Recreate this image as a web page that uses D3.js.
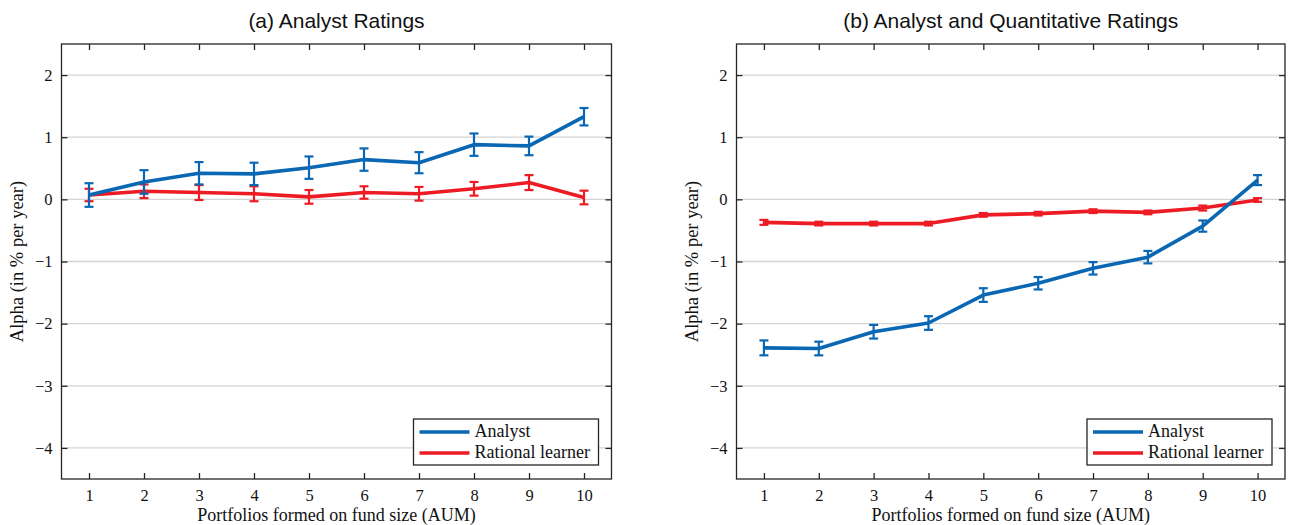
<!DOCTYPE html>
<html>
<head>
<meta charset="utf-8">
<script src="https://cdn.jsdelivr.net/npm/d3@7"></script>
<style>
  body { margin: 0; background: #fff; }
  .tick text, .lbl, .leg { font-family: "Liberation Serif", "DejaVu Serif", serif; }
  .ttl { font-family: "Liberation Sans", Arial, sans-serif; }
</style>
</head>
<body>
<div id="chart"></div>
<script>
// portfolios 1..10 (fund size deciles)
const portfolios = [1, 2, 3, 4, 5, 6, 7, 8, 9, 10];
const yTicks = [-4, -3, -2, -1, 0, 1, 2];

// panel (a) analyst ratings
const aAnalyst    = [0.07, 0.28, 0.42, 0.41, 0.51, 0.64, 0.59, 0.88, 0.86, 1.33];
const aAnalystSE  = [0.19, 0.19, 0.18, 0.18, 0.18, 0.18, 0.17, 0.18, 0.15, 0.14];
const aRational   = [0.07, 0.13, 0.11, 0.09, 0.04, 0.11, 0.09, 0.17, 0.27, 0.03];
const aRationalSE = [0.10, 0.11, 0.12, 0.12, 0.11, 0.10, 0.11, 0.11, 0.12, 0.11];

// panel (b) analyst and quantitative ratings
const bAnalyst    = [-2.39, -2.40, -2.13, -1.99, -1.54, -1.35, -1.11, -0.93, -0.43, 0.31];
const bAnalystSE  = [0.12, 0.11, 0.11, 0.11, 0.11, 0.10, 0.10, 0.10, 0.09, 0.08];
const bRational   = [-0.37, -0.39, -0.39, -0.39, -0.25, -0.23, -0.19, -0.21, -0.14, -0.01];
const bRationalSE = [0.04, 0.03, 0.03, 0.03, 0.03, 0.03, 0.03, 0.03, 0.04, 0.03];

const blue = "#0a67b3", red = "#ed1c24";

const svg = d3.select("#chart").append("svg")
    .attr("width", 1289)
    .attr("height", 525);

function drawPanel(left, right, title, analyst, analystSE, rational, rationalSE) {
    const top = 44, bottom = 479;
    const x = d3.scaleLinear().domain([0.5, 10.5]).range([left, right]);
    const y = d3.scaleLinear().domain([-4.5, 2.5]).range([bottom, top]);
    const g = svg.append("g");

    // grid
    g.selectAll(".grid").data(yTicks).enter().append("line")
        .attr("x1", left).attr("x2", right)
        .attr("y1", d => y(d)).attr("y2", d => y(d))
        .attr("stroke", "#d4d4d4").attr("stroke-width", 1.3);

    // axes with inward ticks on all four sides
    const axB = g.append("g").attr("transform", "translate(0," + bottom + ")")
        .call(d3.axisBottom(x).tickValues(portfolios).tickSizeInner(-6).tickSizeOuter(0).tickPadding(10));
    const axT = g.append("g").attr("transform", "translate(0," + top + ")")
        .call(d3.axisTop(x).tickValues(portfolios).tickSizeInner(-6).tickSizeOuter(0).tickFormat(""));
    const axL = g.append("g").attr("transform", "translate(" + left + ",0)")
        .call(d3.axisLeft(y).tickValues(yTicks).tickSizeInner(-6).tickSizeOuter(0).tickPadding(9)
            .tickFormat(d => d < 0 ? "\u2212" + Math.abs(d) : d));
    const axR = g.append("g").attr("transform", "translate(" + right + ",0)")
        .call(d3.axisRight(y).tickValues(yTicks).tickSizeInner(-6).tickSizeOuter(0).tickFormat(""));
    [axB, axT, axL, axR].forEach(a => {
        a.select(".domain").remove();
        a.selectAll("line").attr("stroke", "#262626").attr("stroke-width", 1.3);
        a.selectAll("text").attr("font-size", 16.5).attr("fill", "#111");
    });

    g.append("rect")
        .attr("x", left).attr("y", top)
        .attr("width", right - left).attr("height", bottom - top)
        .attr("fill", "none").attr("stroke", "#262626").attr("stroke-width", 1.3);

    // series
    const series = [
        {vals: rational, se: rationalSE, color: red},
        {vals: analyst, se: analystSE, color: blue}
    ];
    const line = d3.line().x((d, i) => x(portfolios[i])).y(d => y(d));
    series.forEach(s => {
        const eb = g.append("g").attr("stroke", s.color).attr("stroke-width", 2.2).attr("fill", "none");
        s.vals.forEach((v, i) => {
            const cx = x(portfolios[i]), y0 = y(v - s.se[i]), y1 = y(v + s.se[i]);
            eb.append("line").attr("x1", cx).attr("x2", cx).attr("y1", y0).attr("y2", y1);
            eb.append("line").attr("x1", cx - 4.5).attr("x2", cx + 4.5).attr("y1", y0).attr("y2", y0);
            eb.append("line").attr("x1", cx - 4.5).attr("x2", cx + 4.5).attr("y1", y1).attr("y2", y1);
        });
        g.append("path").datum(s.vals)
            .attr("d", line)
            .attr("fill", "none")
            .attr("stroke", s.color)
            .attr("stroke-width", 3.6)
            .attr("stroke-linejoin", "round");
    });

    // titles and labels
    const cx = (left + right) / 2;
    g.append("text").attr("class", "ttl")
        .attr("x", cx).attr("y", 28)
        .attr("text-anchor", "middle").attr("font-size", 21).attr("fill", "#111")
        .text(title);
    g.append("text").attr("class", "lbl")
        .attr("x", cx).attr("y", 521)
        .attr("text-anchor", "middle").attr("font-size", 18).attr("fill", "#111")
        .text("Portfolios formed on fund size (AUM)");
    g.append("text").attr("class", "lbl")
        .attr("transform", "translate(" + (left - 39) + "," + ((top + bottom) / 2) + ") rotate(-90)")
        .attr("text-anchor", "middle").attr("font-size", 18.5).attr("fill", "#111")
        .text("Alpha (in % per year)");

    // legend
    const lw = 185, lh = 46;
    const lx = right - 13 - lw, ly = bottom - 14 - lh;
    const leg = g.append("g").attr("class", "leg").attr("transform", "translate(" + lx + "," + ly + ")");
    leg.append("rect").attr("width", lw).attr("height", lh)
        .attr("fill", "#fff").attr("stroke", "#262626").attr("stroke-width", 1.3);
    [["Analyst", blue], ["Rational learner", red]].forEach((d, i) => {
        const yy = 13 + i * 21;
        leg.append("line").attr("x1", 6).attr("x2", 56).attr("y1", yy).attr("y2", yy)
            .attr("stroke", d[1]).attr("stroke-width", 3.6);
        leg.append("text").attr("x", 61).attr("y", yy + 5)
            .attr("font-size", 18).attr("fill", "#111").text(d[0]);
    });
}

drawPanel(61.5, 611.5, "(a) Analyst Ratings", aAnalyst, aAnalystSE, aRational, aRationalSE);
drawPanel(736.5, 1285, "(b) Analyst and Quantitative Ratings", bAnalyst, bAnalystSE, bRational, bRationalSE);
</script>
</body>
</html>
